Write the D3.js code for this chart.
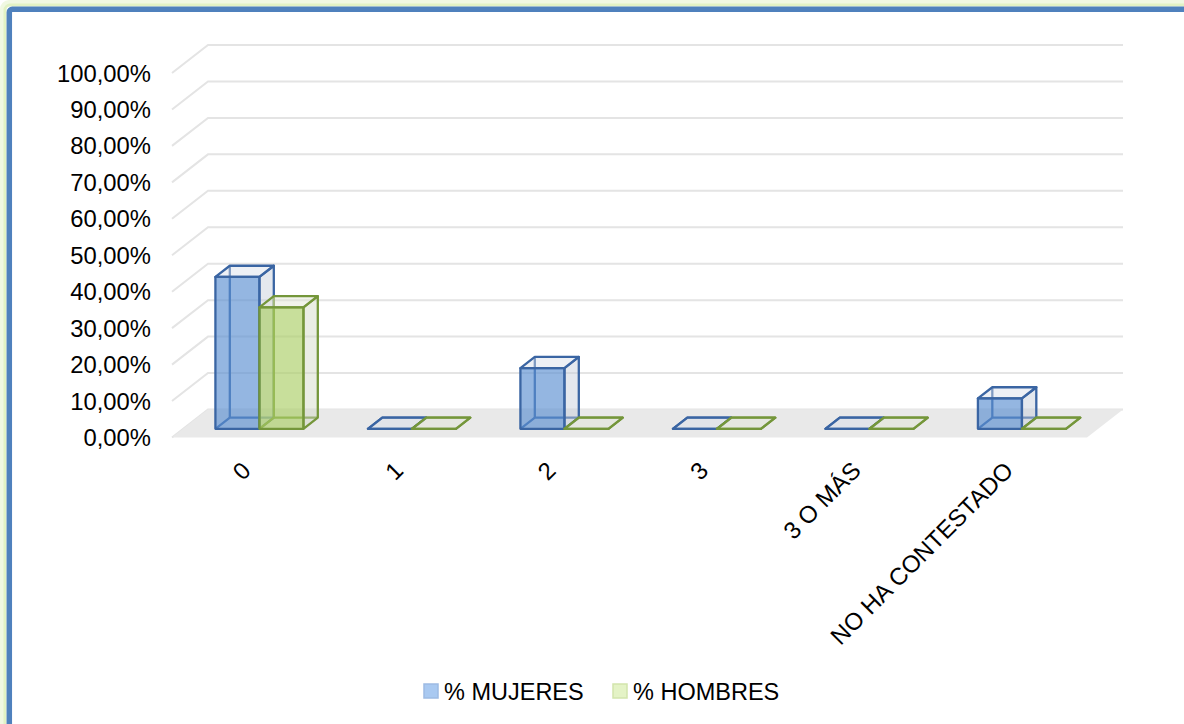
<!DOCTYPE html>
<html>
<head>
<meta charset="utf-8">
<script src="https://cdn.jsdelivr.net/npm/d3@7"></script>
<style>
  html, body { margin: 0; padding: 0; background: #ffffff; }
  svg { display: block; }
  text { font-family: "Liberation Sans", Arial, sans-serif; fill: #000; }
</style>
</head>
<body>
<svg id="chart" width="1184" height="724"></svg>
<script>
// Categories and series values (shares, 0..1)
const categories = ["0", "1", "2", "3", "3 O MÁS", "NO HA CONTESTADO"];
const seriesNames = ["% MUJERES", "% HOMBRES"];
const mujeres = [0.4167, 0, 0.1667, 0, 0, 0.0833];
const hombres = [0.3333, 0, 0, 0, 0, 0];
const yTicks = [0, 0.1, 0.2, 0.3, 0.4, 0.5, 0.6, 0.7, 0.8, 0.9, 1.0];

const seriesValues = [mujeres, hombres];

const svg = d3.select("#chart");

// Outer frame: soft green glow with a blue border
svg.append("rect").attr("x", 3).attr("y", 3).attr("width", 1240).attr("height", 780)
  .attr("rx", 6).attr("fill", "none").attr("stroke", "#f0f8e2").attr("stroke-width", 6);
svg.append("rect").attr("x", 5).attr("y", 5).attr("width", 1240).attr("height", 780)
  .attr("rx", 5).attr("fill", "none").attr("stroke", "#e2f2c4").attr("stroke-width", 3);
svg.append("rect").attr("x", 9.3).attr("y", 9.3).attr("width", 1240).attr("height", 780)
  .attr("rx", 3).attr("fill", "#ffffff").attr("stroke", "#4f81bd").attr("stroke-width", 5.5);

// 3D plot geometry (oblique projection)
const floorLeft = 172, floorRight = 1087;
const depthX = 36, depthY = -28;
const barFront = 0.31, barBack = 0.71;

const x0 = d3.scaleBand().domain(categories).range([floorLeft, floorRight]);
const x1 = d3.scaleBand().domain(seriesNames).range([0, x0.bandwidth()])
  .paddingInner(0).paddingOuter(0.733);
const y = d3.scaleLinear().domain([0, 1]).range([437.5, 73]);

const pctFmt = d3.formatLocale({ decimal: ",", thousands: ".", grouping: [3], currency: ["", "€"] }).format(".2%");

// Walls: gridlines on side wall and back wall
const grid = svg.append("g").attr("stroke", "#e4e4e4").attr("stroke-width", 2).attr("fill", "none");
yTicks.forEach(t => {
  const fy = y(t);
  grid.append("path").attr("d", `M${floorLeft},${fy}L${floorLeft + depthX},${fy + depthY}L${floorRight + depthX},${fy + depthY}`);
});

// Floor
svg.append("path")
  .attr("d", `M${floorLeft},${y(0)}L${floorRight},${y(0)}L${floorRight + depthX},${y(0) + depthY}L${floorLeft + depthX},${y(0) + depthY}Z`)
  .attr("fill", "#e9e9e9");

// Value axis labels
svg.append("g").selectAll("text").data(yTicks).join("text")
  .attr("x", 151).attr("y", d => y(d)).attr("dy", "0.36em")
  .attr("text-anchor", "end").attr("font-size", 23.8)
  .text(d => pctFmt(d));

// Bar styles per series
const styles = [
  { front: "#5b8fd1", stroke: "#3a65a3", side: "#c3ccda", top: "#d6dde8" },
  { front: "#abce65", stroke: "#74963a", side: "#d0d6c4", top: "#dfe5d2" }
];

const pts = a => a.map(p => p.join(",")).join(" ");
const bars = svg.append("g");

categories.forEach((c, ci) => {
  seriesNames.forEach((s, si) => {
    const v = seriesValues[si][ci];
    const st = styles[si];
    const L = x0(c) + x1(s), R = L + x1.bandwidth();
    const yb = y(0), yt = y(v);
    const fx = depthX * barFront, fy = depthY * barFront;
    const bx = depthX * barBack, by = depthY * barBack;
    const FBL = [L + fx, yb + fy], FBR = [R + fx, yb + fy], FTR = [R + fx, yt + fy], FTL = [L + fx, yt + fy];
    const BBL = [L + bx, yb + by], BBR = [R + bx, yb + by], BTR = [R + bx, yt + by], BTL = [L + bx, yt + by];
    const g = bars.append("g").attr("stroke", st.stroke).attr("stroke-width", 2.3).attr("stroke-linejoin", "round");

    // hidden edges (seen through the translucent faces)
    g.append("polyline").attr("points", pts([FBL, BBL, BBR])).attr("fill", "none");
    g.append("line").attr("x1", BBL[0]).attr("y1", BBL[1]).attr("x2", BTL[0]).attr("y2", BTL[1]);
    // right side face
    g.append("polygon").attr("points", pts([FBR, BBR, BTR, FTR])).attr("fill", st.side).attr("fill-opacity", 0.45);
    // top face
    g.append("polygon").attr("points", pts([FTL, FTR, BTR, BTL])).attr("fill", st.top).attr("fill-opacity", 0.45);
    // front face
    g.append("polygon").attr("points", pts([FBL, FBR, FTR, FTL])).attr("fill", st.front).attr("fill-opacity", 0.65);
  });
});

// Category labels
svg.append("g").selectAll("text").data(categories).join("text")
  .attr("transform", d => `translate(${x0(d) + x0.bandwidth() / 2 + 4},472) rotate(-45)`)
  .attr("text-anchor", "end").attr("font-size", 24)
  .text(d => d);

// Legend
const legendItems = [
  { name: seriesNames[0], x: 424, fill: "#a9c9f1", stroke: "#9dbbe3" },
  { name: seriesNames[1], x: 613, fill: "#e4f3c6", stroke: "#d2e5ac" }
];
const lg = svg.append("g");
legendItems.forEach(it => {
  lg.append("rect").attr("x", it.x).attr("y", 684).attr("width", 14).attr("height", 14)
    .attr("fill", it.fill).attr("stroke", it.stroke).attr("stroke-width", 1.5);
  lg.append("text").attr("x", it.x + 20).attr("y", 700).attr("font-size", 23.5).text(it.name);
});
</script>
</body>
</html>
